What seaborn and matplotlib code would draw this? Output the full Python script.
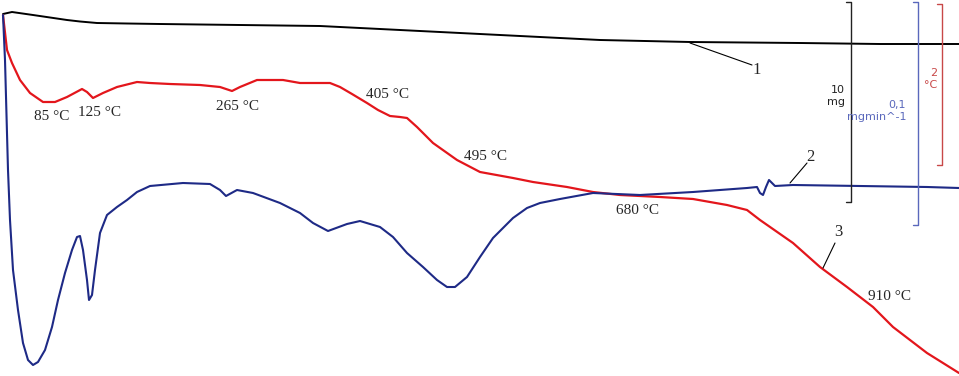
import numpy as np
import pandas as pd
import matplotlib
matplotlib.use("Agg")
import matplotlib.pyplot as plt
import seaborn as sns

# curves, in picture units (x to the right, y downward)
tg_x = [3, 12, 33, 67, 80, 97, 127, 160, 200, 320, 400, 500, 600, 690, 800, 880, 959]
tg_y = [14, 12, 15, 20, 21.5, 23, 23.5, 24, 24.5, 26, 30, 35, 40, 42, 43, 44, 44]

dta_x = [3, 7, 12, 20, 30, 43, 55, 67, 82, 87, 93, 103, 117, 137, 150, 170, 200, 220, 232,
         240, 257, 283, 300, 330, 340, 352, 367, 378, 390, 400, 407, 417, 433, 457, 480,
         513, 533, 567, 593, 620, 660, 693, 727, 747, 760, 793, 820, 847, 873, 893, 927,
         959]
dta_y = [15, 50, 63, 80, 93, 102, 102, 97, 89, 92, 98, 93, 87, 82, 83, 84, 85, 87, 91,
         87, 80, 80, 83, 83, 87, 94, 103, 110, 116, 117, 118, 127, 143, 160, 172,
         178, 182, 187, 192, 195, 197, 199, 205, 210, 220, 243, 267, 287, 307, 327, 353,
         373]

dtg_x = [3, 5, 8, 10, 13, 18, 23, 28, 33, 38, 45, 52, 58, 65, 72, 77, 80, 83, 87, 89, 92,
         95, 100, 107, 117, 127, 137, 150, 183, 210, 220, 226, 237, 253, 280, 300, 313,
         328, 347, 360, 380, 393, 407, 423, 437, 447, 455, 467, 480, 493, 513, 527, 540,
         560, 593, 640, 693, 747, 757, 760, 763, 766, 769, 772, 775, 793, 860, 927, 959]
dtg_y = [15, 60, 170, 220, 270, 310, 343, 360, 365, 362, 350, 327, 300, 273, 250, 237,
         236, 250, 280, 300, 295, 270, 233, 215, 207, 200, 192, 186, 183, 184, 190, 196,
         190, 193, 203, 213, 223, 231, 224, 221, 227, 237, 253, 267, 280, 287, 287, 277,
         257, 238, 218, 208, 203, 199, 193, 195, 192, 188, 187, 193, 195, 187, 180, 183,
         186, 185, 186, 187, 188]

peak_labels = ["85 °C", "125 °C", "265 °C", "405 °C", "495 °C", "680 °C", "910 °C"]
peak_x = [52, 100, 238, 387, 485, 638, 890]
peak_y = [116, 113, 107, 95, 157, 210, 296]

curve_names = ["1", "2", "3"]
name_x = [757, 810, 838]
name_y = [70, 157, 232]
lead_x0 = [752, 807, 835]
lead_y0 = [65, 163, 243]
lead_x1 = [690, 790, 823]
lead_y1 = [43, 183, 268]

# scale bars: x of the bar, top, bottom, colour, label lines
bar_x = [851, 918, 942]
bar_top = [2, 2, 4]
bar_bot = [202, 225, 165]
bar_col = ["#222222", "#5a68bc", "#c84848"]
bar_text = ["10\nmg", "0,1\nmgmin^-1", "2\n°C"]
bar_tx = [845, 906, 937]
bar_ty = [96, 111, 79]

sns.set_style("white")
fig = plt.figure(figsize=(9.59, 3.76), dpi=100)
ax = fig.add_axes([0, 0, 1, 1])

tg = pd.DataFrame({"x": tg_x, "y": tg_y})
dta = pd.DataFrame({"x": dta_x, "y": dta_y})
dtg = pd.DataFrame({"x": dtg_x, "y": dtg_y})
sns.lineplot(data=tg, x="x", y="y", color="black", lw=1.4, ax=ax)
sns.lineplot(data=dta, x="x", y="y", color="#e3161c", lw=1.6, ax=ax)
sns.lineplot(data=dtg, x="x", y="y", color="#1e2a86", lw=1.5, ax=ax)

for t, x, y in zip(peak_labels, peak_x, peak_y):
    ax.text(x, y, t, family="Liberation Serif", fontsize=11, ha="center", va="center")

for t, x, y, x0, y0, x1, y1 in zip(curve_names, name_x, name_y, lead_x0, lead_y0, lead_x1, lead_y1):
    ax.text(x, y, t, family="Liberation Serif", fontsize=12, ha="center", va="center")
    ax.plot([x0, x1], [y0, y1], color="black", lw=0.8)

for x, t0, t1, c, s, tx, ty in zip(bar_x, bar_top, bar_bot, bar_col, bar_text, bar_tx, bar_ty):
    ax.plot([x - 5, x, x, x - 5], [t0, t0, t1, t1], color=c, lw=1.0)
    ax.text(tx, ty, s, color=c, fontsize=8, ha="right", va="center", linespacing=1.15)

ax.set_xlim(0, 959)
ax.set_ylim(376, 0)
ax.axis("off")
fig.savefig("out.png", dpi=100)
